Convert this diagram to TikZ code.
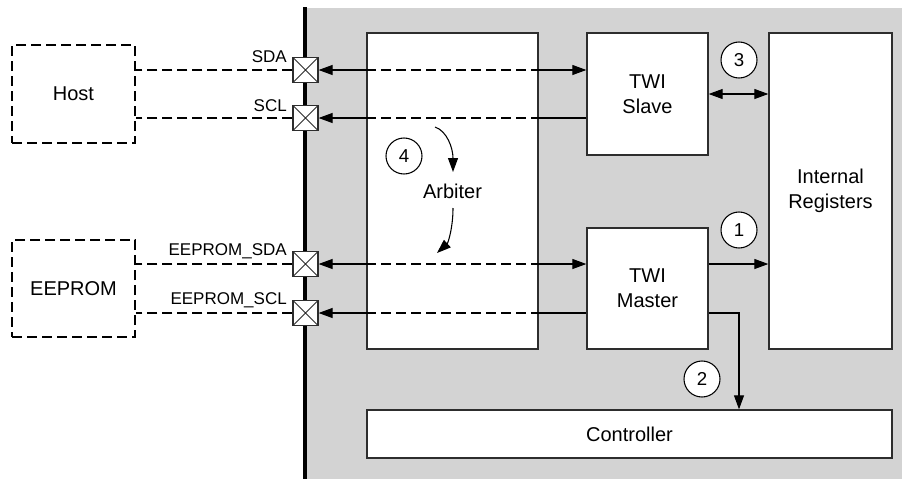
\documentclass[tikz,border=0pt]{standalone}
\usepackage{fontspec}
\setmainfont{Liberation Sans}
\usetikzlibrary{arrows.meta}
\definecolor{bggray}{RGB}{211,211,211}
\definecolor{edgec}{RGB}{45,45,45}
\newcommand\mainfs{\fontsize{15}{18.5}\selectfont}
\newcommand\labfs{\fontsize{12.75}{15}\selectfont}
\newcommand\numfs{\fontsize{14}{16}\selectfont}
\begin{document}
\begin{tikzpicture}[x=0.75pt,y=-0.75pt,
  >={Triangle[length=10.5pt,width=7.5pt]},
  blk/.style={draw=edgec, line width=1pt, fill=white, inner sep=0pt, align=center, font=\mainfs},
  dbox/.style={draw=black, line width=1.9pt, dash pattern=on 7.5pt off 3.75pt, inner sep=0pt, align=center, font=\mainfs},
  dline/.style={line width=1.9pt, dash pattern=on 7.5pt off 3.75pt},
  conn/.style={line width=0.8pt},
  pad/.style={draw=edgec, fill=white, line width=0.9pt, minimum size=18.75pt, inner sep=0pt,
    path picture={\draw[line width=0.7pt] (path picture bounding box.north west) -- (path picture bounding box.south east)
      (path picture bounding box.north east) -- (path picture bounding box.south west);}},
  num/.style={circle, draw=black, fill=white, line width=0.8pt, minimum size=27pt, inner sep=0pt, font=\numfs},
  lab/.style={font=\labfs, inner sep=0pt, anchor=base east}]
\useasboundingbox (0,0) rectangle (902,479);
% background
\fill[bggray] (307,8) rectangle (902,479);
\draw[line width=3pt] (305,7) -- (305,479);
% external boxes
\node[dbox, minimum width=92.25pt, minimum height=73.5pt] (host) at (73.5,94) {Host};
\node[dbox, minimum width=92.25pt, minimum height=72.75pt] (eeprom) at (73.5,288.5) {EEPROM};
% internal blocks
\node[blk, minimum width=128.25pt, minimum height=237pt] (arb) at (452.5,191) {Arbiter};
\node[blk, minimum width=90.75pt, minimum height=91.5pt] (slave) at (647.5,94) {TWI\\Slave};
\node[blk, minimum width=90.75pt, minimum height=90.75pt] (master) at (647.5,288.5) {TWI\\Master};
\node[blk, minimum width=92.25pt, minimum height=237pt] (regs) at (830.5,191) {Internal\\Registers};
\node[blk, minimum width=393.75pt, minimum height=36pt] (ctrl) at (629.5,434) {Controller};
% pads
\node[pad] (sq1) at (305.5,70) {};
\node[pad] (sq2) at (305.5,118) {};
\node[pad] (sq3) at (305.5,264) {};
\node[pad] (sq4) at (305.5,313) {};
% pad labels
\node[lab] (lsda) at (287,62) {SDA};
\node[lab] (lscl) at (287,111) {SCL};
\node[lab] (lesda) at (287,255) {EEPROM\_SDA};
\node[lab] (lescl) at (287,304) {EEPROM\_SCL};
% external dashed wires
\draw[dline] (sq1.west) -- (sq1.west -| host.east);
\draw[dline] (sq2.west) -- (sq2.west -| host.east);
\draw[dline] (sq3.west) -- (sq3.west -| eeprom.east);
\draw[dline] (sq4.west) -- (sq4.west -| eeprom.east);
% SDA
\draw[conn,<-] (sq1.east) -- (sq1 -| arb.west);
\draw[dline] (sq1 -| arb.west) -- (sq1 -| arb.east);
\draw[conn,->] (sq1 -| arb.east) -- (sq1 -| slave.west);
% SCL
\draw[conn,<-] (sq2.east) -- (sq2 -| arb.west);
\draw[dline] (sq2 -| arb.west) -- (sq2 -| arb.east);
\draw[conn] (sq2 -| arb.east) -- (sq2 -| slave.west);
% EEPROM_SDA
\draw[conn,<-] (sq3.east) -- (sq3 -| arb.west);
\draw[dline] (sq3 -| arb.west) -- (sq3 -| arb.east);
\draw[conn,->] (sq3 -| arb.east) -- (sq3 -| master.west);
% EEPROM_SCL
\draw[conn,<-] (sq4.east) -- (sq4 -| arb.west);
\draw[dline] (sq4 -| arb.west) -- (sq4 -| arb.east);
\draw[conn] (sq4 -| arb.east) -- (sq4 -| master.west);
% internal connectors
\draw[conn,<->] (slave.east) -- (slave.east -| regs.west);
\draw[conn,->] (master.east |- sq3) -- (sq3 -| regs.west);
\coordinate (bend) at (739,313);
\draw[conn,->] (master.east |- bend) -- (bend) -- (bend |- ctrl.north);
% arbiter arrows
\coordinate (a1s) at (435,127);
\coordinate (a1e) at (453,172);
\coordinate (a2s) at (453,208);
\coordinate (a2e) at (437,253);
\draw[conn,->] (a1s) .. controls (447,131) and (453,148) .. (a1e);
\draw[conn,->] (a2s) .. controls (453,228) and (448,243) .. (a2e);
% numbered circles
\node[num] (c1) at (739,230) {1};
\node[num] (c2) at (702,379) {2};
\node[num] (c3) at (739,60) {3};
\node[num] (c4) at (404,156) {4};
\end{tikzpicture}
\end{document}
